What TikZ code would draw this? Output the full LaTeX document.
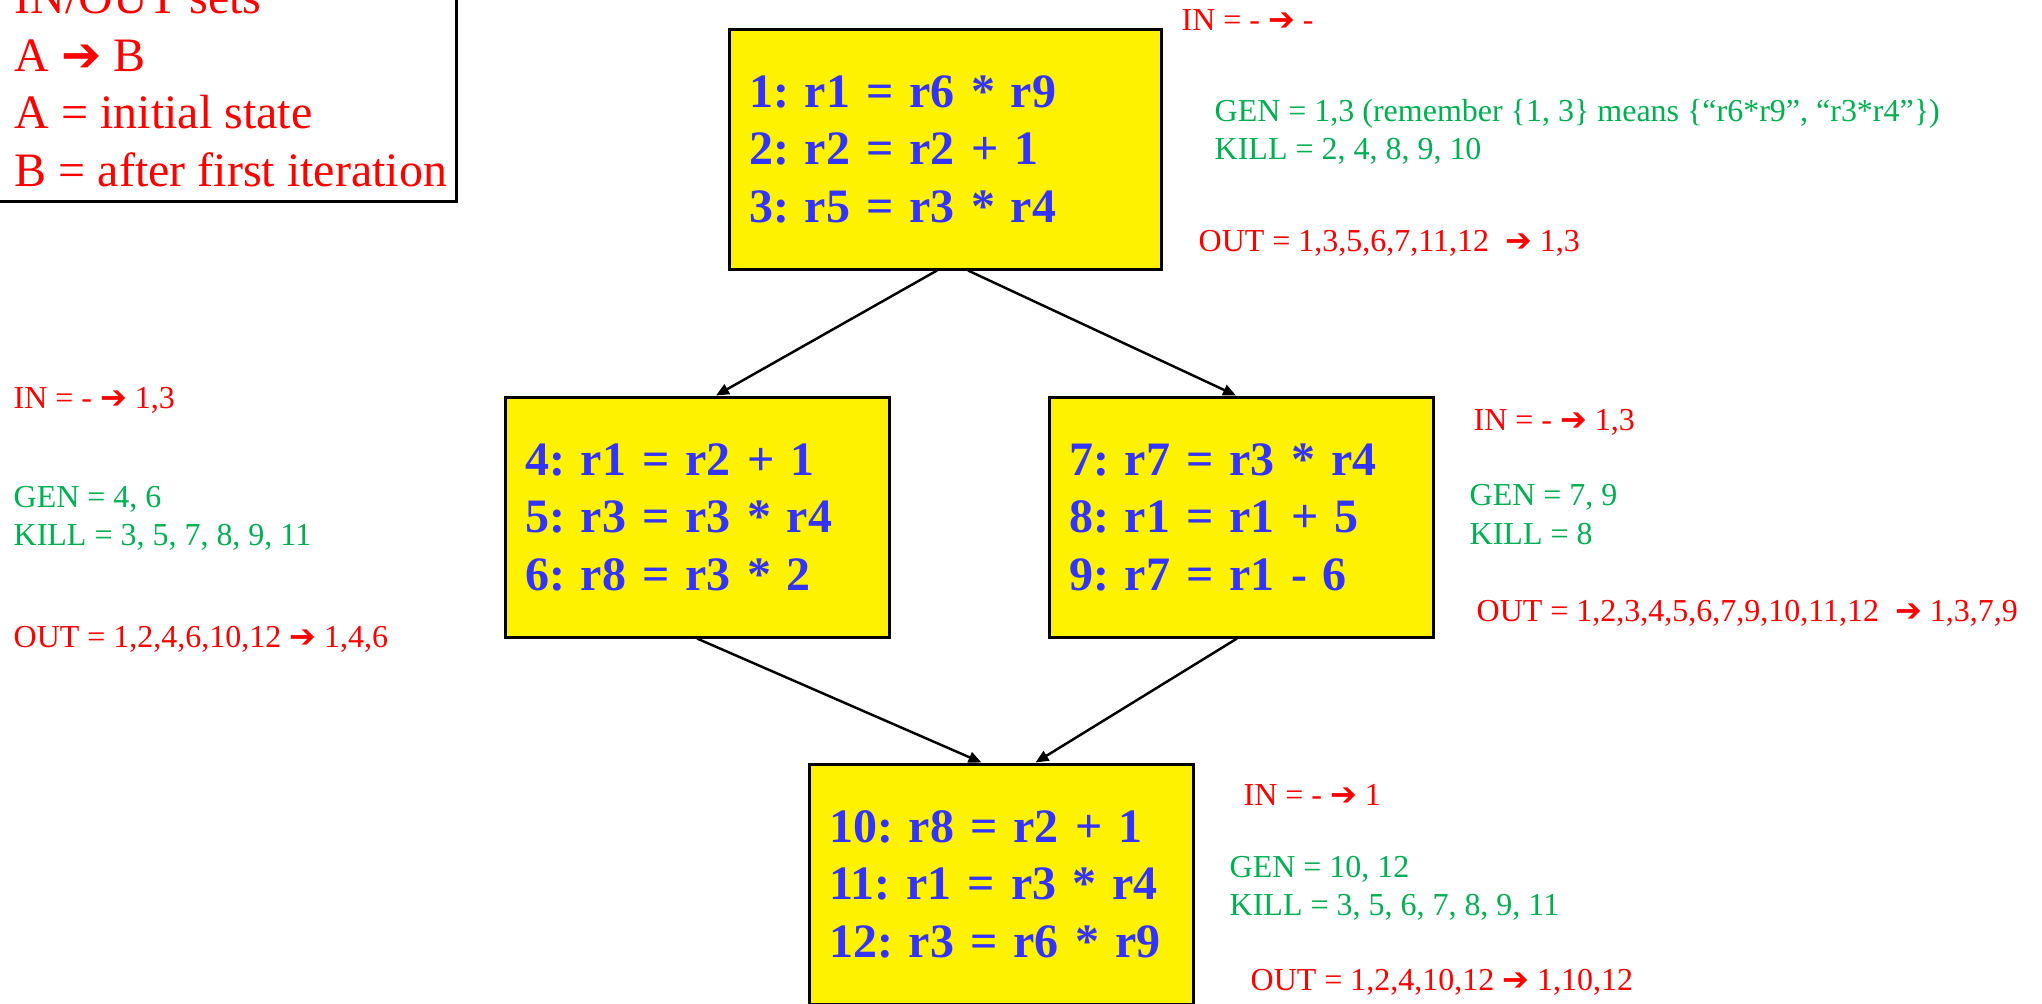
\documentclass[tikz,border=0pt]{standalone}
\usepackage{fontspec}
\setmainfont{Liberation Serif}
\newfontfamily\arrowfont{DejaVu Sans}
\usetikzlibrary{arrows.meta,shadows}
\definecolor{setred}{RGB}{255,0,0}
\definecolor{setgreen}{RGB}{0,176,80}
\definecolor{codeblue}{RGB}{51,51,255}
\newcommand\toarr{{\arrowfont ➔}}
\frenchspacing
\tikzset{
  block/.style={draw=black, line width=0.85pt, fill=yellow, text=codeblue, align=left,
    inner xsep=2mm, inner ysep=0pt, minimum height=24mm,
    font=\fontsize{13.66}{16.36}\selectfont\bfseries,
    drop shadow={shadow xshift=0.2mm, shadow yshift=-0.2mm, fill=black!40, opacity=1}},
  wideblock/.style={block, text width=39.2mm},
  narrowblock/.style={block, text width=34.4mm},
  note/.style={anchor=base west, inner sep=0pt, font=\fontsize{9.1}{10.8}\selectfont},
  inout/.style={note, text=setred},
  genkill/.style={note, text=setgreen},
  flow/.style={line width=0.7pt, -{Triangle[length=1.3mm,width=1.1mm]}}
}
\begin{document}
\begin{tikzpicture}[x=0.1mm,y=-0.1mm]
\useasboundingbox (0,0) rectangle (2042,1003);
\draw[line width=0.85pt, drop shadow={shadow xshift=0.2mm, shadow yshift=-0.2mm, fill=black!40, opacity=1}, fill=white] (-20,-60) rectangle (456,201);
\node[anchor=north west, inner sep=0pt, align=left, text=setred, font=\fontsize{13.66}{16.36}\selectfont] (legend) at (14,-18.5) {IN/OUT sets\\A \toarr{} B\\A = initial state\\B = after first iteration};

\node[wideblock] (b1) at (945,149) {1: r1 = r6 * r9\\2: r2 = r2 + 1\\3: r5 = r3 * r4};
\node[narrowblock] (b2) at (697,517) {4: r1 = r2 + 1\\5: r3 = r3 * r4\\6: r8 = r3 * 2};
\node[narrowblock] (b3) at (1241,517) {7: r7 = r3 * r4\\8: r1 = r1 + 5\\9: r7 = r1 - 6};
\node[narrowblock] (b4) at (1001,884) {10: r8 = r2 + 1\\11: r1 = r3 * r4\\12: r3 = r6 * r9};

\draw[flow] ([xshift=-0.8mm]b1.south) -- ([xshift=1.9mm]b2.north);
\draw[flow] ([xshift=2.3mm]b1.south) -- ([xshift=-0.5mm]b3.north);
\draw[flow] (b2.south) -- ([xshift=-1.95mm]b4.north);
\draw[flow] ([xshift=-0.4mm]b3.south) -- ([xshift=3.45mm]b4.north);

\node[inout] (in1) at (1181,30) {IN = - \toarr{} -};
\node[genkill] (gen1) at (1214,121) {GEN = 1,3 (remember \{1, 3\} means \{“r6*r9”, “r3*r4”\})};
\node[genkill] (kill1) at (1214,159) {KILL = 2, 4, 8, 9, 10};
\node[inout] (out1) at (1198,251) {OUT = 1,3,5,6,7,11,12\ \ \toarr{} 1,3};

\node[inout] (in2) at (13,408) {IN = - \toarr{} 1,3};
\node[genkill] (gen2) at (13,507) {GEN = 4, 6};
\node[genkill] (kill2) at (13,545) {KILL = 3, 5, 7, 8, 9, 11};
\node[inout] (out2) at (13,647) {OUT = 1,2,4,6,10,12 \toarr{} 1,4,6};

\node[inout] (in3) at (1473,430) {IN = - \toarr{} 1,3};
\node[genkill] (gen3) at (1469,505) {GEN = 7, 9};
\node[genkill] (kill3) at (1469,544) {KILL = 8};
\node[inout] (out3) at (1476,621) {OUT = 1,2,3,4,5,6,7,9,10,11,12\ \ \toarr{} 1,3,7,9};

\node[inout] (in4) at (1243,805) {IN = - \toarr{} 1};
\node[genkill] (gen4) at (1229,877) {GEN = 10, 12};
\node[genkill] (kill4) at (1229,915) {KILL = 3, 5, 6, 7, 8, 9, 11};
\node[inout] (out4) at (1250,990) {OUT = 1,2,4,10,12 \toarr{} 1,10,12};
\end{tikzpicture}
\end{document}
